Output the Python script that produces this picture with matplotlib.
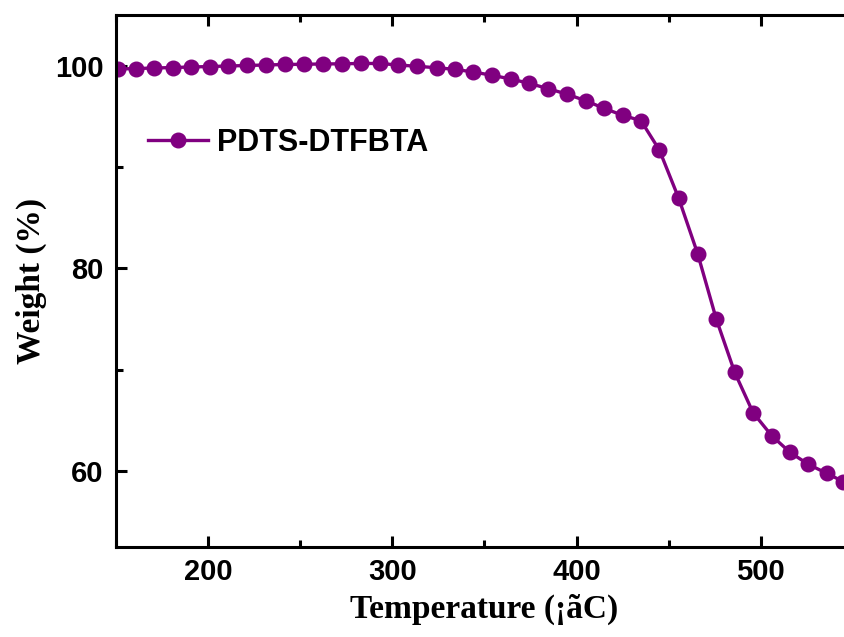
import numpy as np
import matplotlib
matplotlib.use('Agg')
import matplotlib.pyplot as plt
from matplotlib.ticker import MultipleLocator

# Datos (TGA)
temperature = [151, 160.7, 170.6, 180.7, 190.6, 200.9, 210.9, 220.9, 231.3, 241.7,
               252, 262.1, 272.4, 282.9, 293.2, 303.2, 313.5, 324, 334, 343.9,
               354.2, 364.2, 374.3, 384.6, 394.6, 405, 414.9, 425.1, 435, 445,
               455.5, 465.8, 475.9, 485.9, 495.9, 506, 515.9, 525.9, 535.9, 545]
weight = [99.7, 99.75, 99.8, 99.85, 99.9, 99.95, 100.0, 100.05, 100.1, 100.15,
          100.17, 100.2, 100.22, 100.25, 100.25, 100.1, 99.97, 99.83, 99.67, 99.41,
          99.08, 98.72, 98.29, 97.76, 97.23, 96.57, 95.82, 95.13, 94.6, 91.7,
          86.93, 81.45, 75.0, 69.73, 65.74, 63.47, 61.83, 60.64, 59.75, 58.92]
series_name = 'PDTS-DTFBTA'

W, H = 845, 637
fig = plt.figure(figsize=(W / 100, H / 100), dpi=100)
ax = fig.add_axes([116.2 / W, 1 - 546.7 / H, 736.5 / W, (546.7 - 15) / H])

ax.plot(temperature, weight, color='#800080', lw=2.4, marker='o', ms=10.5,
        mec='#800080', mfc='#800080', label=series_name, clip_on=True)

ax.set_xlim(150, 550)
ax.set_ylim(52.5, 105.04)
ax.xaxis.set_major_locator(MultipleLocator(100))
ax.xaxis.set_minor_locator(MultipleLocator(50))
ax.yaxis.set_major_locator(MultipleLocator(20))
ax.yaxis.set_minor_locator(MultipleLocator(10))

for side in ['left', 'bottom', 'top']:
    ax.spines[side].set_linewidth(2.2)
ax.spines['right'].set_visible(False)

ax.tick_params(which='both', direction='in', top=True, right=False, width=2.2)
ax.tick_params(which='major', length=8)
ax.tick_params(which='minor', length=5)
ax.tick_params(axis='x', which='major', pad=8)
ax.tick_params(axis='y', which='major', pad=9)

for lab in ax.get_xticklabels() + ax.get_yticklabels():
    lab.set_fontfamily('Liberation Sans')
    lab.set_fontweight('bold')
    lab.set_fontsize(21)

ax.set_xlabel('Temperature (¡ãC)', fontfamily='Liberation Serif', fontweight='bold',
              fontsize=24, labelpad=6)
ax.set_ylabel('Weight (%)', fontfamily='Liberation Serif', fontweight='bold',
              fontsize=24, labelpad=6)

leg = ax.legend(loc='upper left', bbox_to_anchor=(148 / W, 1 - 128 / H),
                bbox_transform=fig.transFigure, frameon=False, borderpad=0,
                borderaxespad=0, handlelength=1.95, handletextpad=0.3,
                prop={'family': 'Liberation Sans', 'weight': 'bold', 'size': 22})

fig.savefig('out.png', dpi=100)
